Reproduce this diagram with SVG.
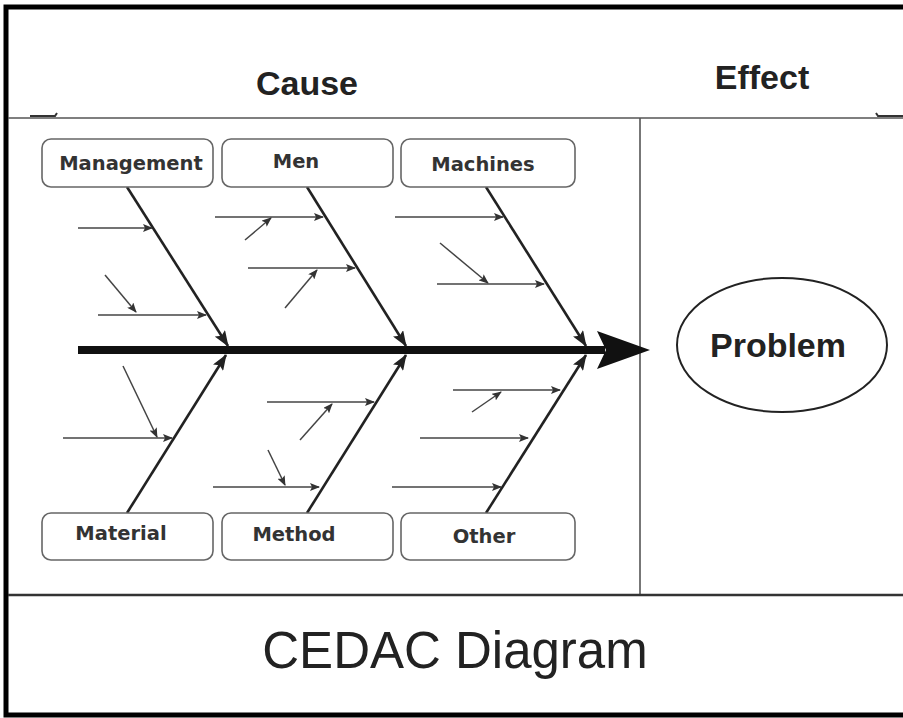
<svg xmlns="http://www.w3.org/2000/svg" width="903" height="718" viewBox="0 0 903 718">
  <style>
    .frame { fill: none; stroke: #000; stroke-width: 5; }
    .rule { fill: none; stroke: #555; stroke-width: 1.6; }
    .head { font-family: "Liberation Sans", Arial, sans-serif; font-weight: bold; font-size: 34px; fill: #222; text-anchor: middle; }
    .title { font-family: "Liberation Sans", Arial, sans-serif; font-size: 51px; fill: #222; text-anchor: middle; }
    .box { fill: #fff; stroke: #666; stroke-width: 1.6; }
    .lbl { font-family: "DejaVu Sans", sans-serif; font-weight: bold; font-size: 19.5px; fill: #333; text-anchor: middle; }
    .bone { fill: none; stroke: #222; stroke-width: 2.6; marker-end: url(#big); }
    .sub { fill: none; stroke: #444; stroke-width: 1.5; marker-end: url(#small); }
    .spine { fill: none; stroke: #111; stroke-width: 8; }
  </style>
  <defs>
    <marker id="big" viewBox="0 0 16 12" refX="15" refY="6" markerWidth="16" markerHeight="12" markerUnits="userSpaceOnUse" orient="auto">
      <path d="M0,0 L16,6 L0,12 L3,6 Z" fill="#222"/>
    </marker>
    <marker id="small" viewBox="0 0 10 8" refX="9" refY="4" markerWidth="10" markerHeight="8" markerUnits="userSpaceOnUse" orient="auto">
      <path d="M0,0 L10,4 L0,8 L2,4 Z" fill="#333"/>
    </marker>
  </defs>

  <rect width="903" height="718" fill="#fff"/>

  <!-- outer frame (open on the right) -->
  <path class="frame" d="M903,7 L6,7 L6,715 L903,715"/>

  <!-- section rules -->
  <path class="rule" d="M8,118 L903,118"/>
  <path d="M30,116 L55,116 L57,113 M876,113 L878,116 L903,116" fill="none" stroke="#333" stroke-width="2"/>
  <path class="rule" d="M640,118 L640,595" stroke="#777"/>
  <path d="M8,595 L903,595" fill="none" stroke="#333" stroke-width="2.4"/>

  <!-- headings -->
  <text class="head" x="307" y="95">Cause</text>
  <text class="head" x="762" y="89">Effect</text>
  <text class="title" x="455" y="668">CEDAC Diagram</text>

  <!-- connectors -->
  <g id="connectors">
    <!-- spine -->
    <line class="spine" x1="78" y1="350" x2="605" y2="350"/>
    <path d="M597,331 L650,350 L597,369 L606,350 Z" fill="#111"/>

    <!-- main bones -->
    <line class="bone" x1="127" y1="187" x2="228" y2="346"/>
    <line class="bone" x1="307" y1="187" x2="406" y2="346"/>
    <line class="bone" x1="486" y1="187" x2="586" y2="346"/>
    <line class="bone" x1="127" y1="513" x2="226" y2="355"/>
    <line class="bone" x1="307" y1="513" x2="406" y2="355"/>
    <line class="bone" x1="486" y1="513" x2="586" y2="355"/>

    <!-- Management sub-causes -->
    <line class="sub" x1="78" y1="228" x2="152" y2="228"/>
    <line class="sub" x1="98" y1="315" x2="206" y2="315"/>
    <line class="sub" x1="105" y1="275" x2="136" y2="312"/>

    <!-- Men sub-causes -->
    <line class="sub" x1="215" y1="217" x2="323" y2="217"/>
    <line class="sub" x1="245" y1="240" x2="271" y2="218"/>
    <line class="sub" x1="248" y1="268" x2="355" y2="268"/>
    <line class="sub" x1="285" y1="308" x2="317" y2="270"/>

    <!-- Machines sub-causes -->
    <line class="sub" x1="395" y1="217" x2="503" y2="217"/>
    <line class="sub" x1="440" y1="243" x2="488" y2="283"/>
    <line class="sub" x1="437" y1="284" x2="544" y2="284"/>

    <!-- Material sub-causes -->
    <line class="sub" x1="63" y1="438" x2="172" y2="438"/>
    <line class="sub" x1="123" y1="366" x2="157" y2="437"/>

    <!-- Method sub-causes -->
    <line class="sub" x1="267" y1="402" x2="374" y2="402"/>
    <line class="sub" x1="300" y1="440" x2="332" y2="404"/>
    <line class="sub" x1="213" y1="487" x2="319" y2="487"/>
    <line class="sub" x1="268" y1="450" x2="285" y2="485"/>

    <!-- Other sub-causes -->
    <line class="sub" x1="453" y1="390" x2="560" y2="390"/>
    <line class="sub" x1="472" y1="412" x2="501" y2="392"/>
    <line class="sub" x1="420" y1="438" x2="528" y2="438"/>
    <line class="sub" x1="392" y1="487" x2="501" y2="487"/>
  </g>

  <!-- cause categories -->
  <g id="management">
    <rect class="box" x="42" y="139" width="171" height="48" rx="9"/>
    <text class="lbl" x="131" y="170">Management</text>
  </g>
  <g id="men">
    <rect class="box" x="222" y="139" width="171" height="48" rx="9"/>
    <text class="lbl" x="296" y="168">Men</text>
  </g>
  <g id="machines">
    <rect class="box" x="401" y="139" width="174" height="48" rx="9"/>
    <text class="lbl" x="483" y="171">Machines</text>
  </g>
  <g id="material">
    <rect class="box" x="42" y="513" width="171" height="47" rx="9"/>
    <text class="lbl" x="121" y="540">Material</text>
  </g>
  <g id="method">
    <rect class="box" x="222" y="513" width="171" height="47" rx="9"/>
    <text class="lbl" x="294" y="541">Method</text>
  </g>
  <g id="other">
    <rect class="box" x="401" y="513" width="174" height="47" rx="9"/>
    <text class="lbl" x="484" y="543">Other</text>
  </g>

  <!-- effect -->
  <g id="problem">
    <ellipse cx="782" cy="345" rx="105" ry="67" fill="#fff" stroke="#222" stroke-width="2"/>
    <text class="head" x="778" y="357">Problem</text>
  </g>
</svg>
